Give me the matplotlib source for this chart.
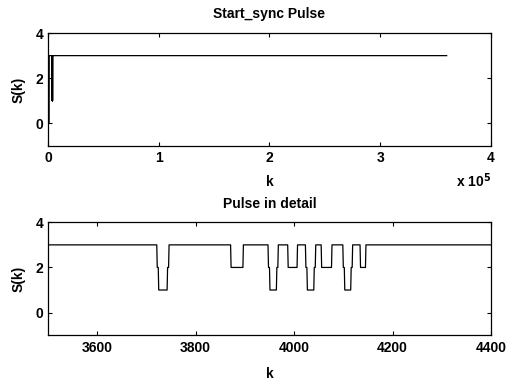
import numpy as np
import matplotlib
matplotlib.use("Agg")
import matplotlib.pyplot as plt
from matplotlib.ticker import FuncFormatter

# ---- data ----
k_total = 360000
base_level = 3
start_level = 0
start_len = 1000
# segments (start k, end k, level) of the pulse region
seg_start = [3722, 3725, 3743, 3872, 3948, 3951, 3965, 3988, 4024, 4027, 4041, 4056, 4100, 4103, 4116, 4135]
seg_end   = [3725, 3743, 3746, 3897, 3951, 3965, 3968, 4007, 4027, 4041, 4044, 4077, 4103, 4116, 4119, 4146]
seg_level = [2,    1,    2,    2,    2,    1,    2,    2,    2,    1,    2,    2,    2,    1,    2,    2]

top_xticks = [0, 100000, 200000, 300000, 400000]
bot_xticks = [3600, 3800, 4000, 4200, 4400]
yticks = [0, 2, 4]

k = np.arange(k_total + 1)
s = np.full(k.shape, base_level, dtype=float)
s[:start_len] = start_level
for a, b, lv in zip(seg_start, seg_end, seg_level):
    s[a:b] = lv

plt.rcParams['font.family'] = ['Liberation Sans', 'DejaVu Sans']
plt.rcParams['font.weight'] = 'bold'

fig = plt.figure(figsize=(5.16, 3.8), dpi=100)
ax1 = fig.add_axes([0.093, 0.616, 0.8585, 0.297])
ax2 = fig.add_axes([0.093, 0.118, 0.8585, 0.297])

for ax in (ax1, ax2):
    ax.plot(k, s, color='black', lw=0.9)
    ax.set_ylim(-1, 4)
    ax.set_yticks(yticks)
    ax.tick_params(direction='in', top=True, right=True, length=3, labelsize=10, width=0.8)
    ax.tick_params(axis='x', pad=4)
    for sp in ax.spines.values():
        sp.set_linewidth(0.9)
    ax.set_ylabel('S(k)', fontsize=10, fontweight='bold', labelpad=7)

ax1.set_xlim(0, 400000)
ax1.set_xticks(top_xticks)
ax1.xaxis.set_major_formatter(FuncFormatter(lambda v, p: f"{v/1e5:g}"))
ax1.set_xlabel('k', fontsize=10, fontweight='bold', labelpad=7)
ax1.set_title('Start_sync Pulse', fontsize=10, fontweight='bold', pad=11)
ax1.text(1.0, -0.23, r'x 10$^{5}$', transform=ax1.transAxes, ha='right', va='top',
         fontsize=10, fontweight='bold')

ax2.set_xlim(3500, 4400)
ax2.set_xticks(bot_xticks)
ax2.set_xlabel('k', fontsize=10, fontweight='bold', labelpad=9)
ax2.set_title('Pulse in detail', fontsize=10, fontweight='bold', pad=10)

for ax in (ax1, ax2):
    for lab in ax.get_xticklabels() + ax.get_yticklabels():
        lab.set_fontweight('bold')

fig.savefig('out.png', dpi=100)
